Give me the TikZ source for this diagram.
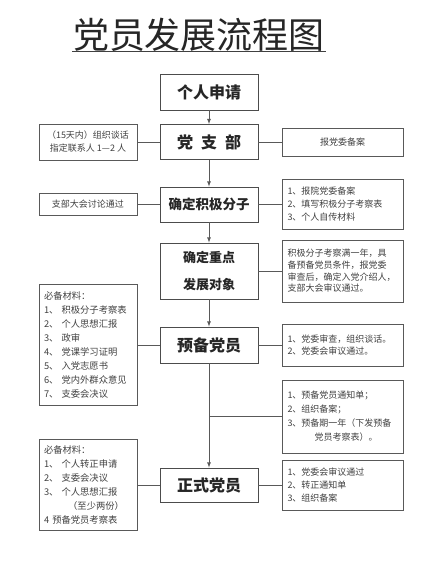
\documentclass[tikz,border=0pt]{standalone}
\usepackage{fontspec}
\setmainfont{Noto Sans CJK SC}
\usepackage{tikz}
\usetikzlibrary{arrows}

\begin{document}
\begin{tikzpicture}[x=1pt,y=-1pt,
  stage/.style={draw=black!70,line width=0.8pt,minimum width=98pt,inner sep=0pt,
    align=center,font=\bfseries\fontsize{16}{18}\selectfont,text=black!85},
  note/.style={draw=black!65,line width=0.8pt,inner ysep=0pt,
    font=\fontsize{9}{13}\selectfont,text=black!75},
  lnote/.style={note,minimum width=98pt,inner xsep=0pt,align=center},
  rnote/.style={note,text width=110pt,inner xsep=5.5pt,align=left},
  mnote/.style={note,text width=88pt,inner xsep=5pt,align=left,
    font=\fontsize{9.3}{14}\selectfont},
  link/.style={draw=black!65,line width=0.8pt},
  flow/.style={link,-latex}]
\useasboundingbox (0,0) rectangle (439,571);
%
\node[inner sep=1pt,font=\fontsize{36}{38}\selectfont,text=black!85]
  (title) at (199,35) {党员发展流程图};
\draw[line width=0.9pt,black!75] (72,51) -- (326,51);
%
\node[stage,minimum height=36pt] (apply) at (209,92) {个人申请};
\node[stage,minimum height=35pt] (branch) at (209,142) {党\hspace{8pt}支\hspace{8pt}部};
\node[stage,minimum height=35pt,font=\bfseries\fontsize{13.5}{16}\selectfont]
  (activist) at (209,204.5) {确定积极分子};
\node[stage,minimum height=56pt,font=\bfseries\fontsize{13}{27}\selectfont]
  (target) at (209,271) {确定重点\\发展对象};
\node[stage,minimum height=36pt] (probation) at (209,345) {预备党员};
\node[stage,minimum height=34pt] (member) at (209,485) {正式党员};
\coordinate (fork) at (209,416.5);
%
\node[lnote,minimum height=36pt] (talk) at (88,142)
  {（15天内）组织谈话\\指定联系人 1—2 人};
\node[lnote,minimum height=22pt] (vote) at (88,204.5) {支部大会讨论通过};
\node[mnote,minimum height=121pt] (needa) at (88,345)
  {必备材料：\\1、 积极分子考察表\\2、 个人思想汇报\\3、 政审\\4、 党课学习证明\\5、 入党志愿书\\6、 党内外群众意见\\7、 支委会决议};
\node[mnote,minimum height=91pt] (needb) at (88,485)
  {必备材料：\\1、 个人转正申请\\2、 支委会决议\\3、 个人思想汇报\\\hspace*{2.6em}（至少两份）\\4 预备党员考察表};
%
\node[note,minimum width=121pt,minimum height=28pt] (record) at (342.5,142) {报党委备案};
\node[rnote,minimum height=50pt] (steps) at (342.5,204.5)
  {1、报院党委备案\\2、填写积极分子考察表\\3、个人自传材料};
\node[rnote,minimum height=62pt,font=\fontsize{9}{11.7}\selectfont] (review) at (342.5,271)
  {积极分子考察满一年，具\\备预备党员条件，报党委\\审查后，确定入党介绍人，\\支部大会审议通过。};
\node[rnote,minimum height=42pt,font=\fontsize{9}{11.5}\selectfont] (check) at (342.5,345)
  {1、党委审查，组织谈话。\\2、党委会审议通过。};
\node[rnote,minimum height=73pt,font=\fontsize{9}{14}\selectfont] (notice) at (342.5,416.5)
  {1、预备党员通知单；\\2、组织备案；\\3、预备期一年（下发预备\\\hspace*{3em}党员考察表）。};
\node[rnote,minimum height=50pt] (final) at (342.5,485)
  {1、党委会审议通过\\2、转正通知单\\3、组织备案};
%
\draw[flow] (apply) -- (branch);
\draw[flow] (branch) -- (activist);
\draw[flow] (activist) -- (target);
\draw[flow] (target) -- (probation);
\draw[flow] (probation) -- (member);
%
\draw[link] (talk) -- (branch);
\draw[link] (vote) -- (activist);
\draw[link] (needa) -- (probation);
\draw[link] (needb) -- (member);
\draw[link] (branch) -- (record);
\draw[link] (activist) -- (steps);
\draw[link] (target) -- (review);
\draw[link] (probation) -- (check);
\draw[link] (fork) -- (notice);
\draw[link] (member) -- (final);
\end{tikzpicture}
\end{document}
